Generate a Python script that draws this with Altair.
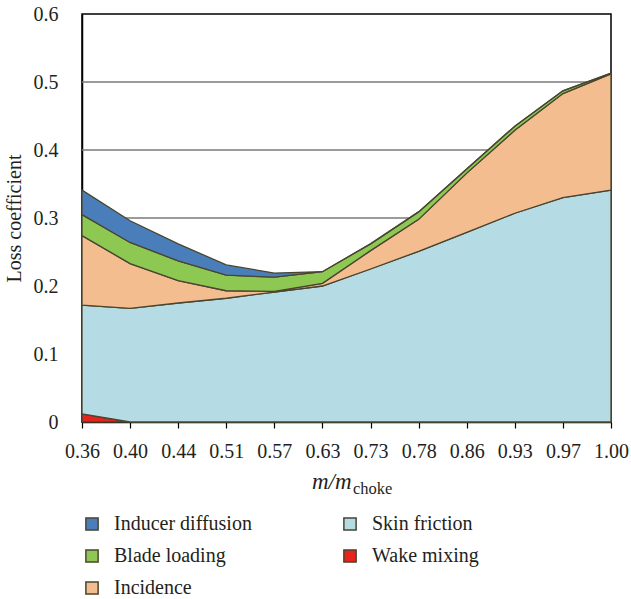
import altair as alt
import pandas as pd

# Mass-flow ratio categories (x axis)
mass_flow = ["0.36", "0.40", "0.44", "0.51", "0.57", "0.63",
             "0.73", "0.78", "0.86", "0.93", "0.97", "1.00"]

# Loss contributions per mechanism (stacked bottom to top)
wake_mixing = [0.012, 0, 0, 0, 0, 0, 0, 0, 0, 0, 0, 0]
skin_friction = [0.160, 0.167, 0.175, 0.182, 0.191, 0.200,
                 0.225, 0.251, 0.279, 0.307, 0.330, 0.341]
incidence = [0.102, 0.066, 0.033, 0.011, 0.001, 0.004,
             0.027, 0.047, 0.087, 0.122, 0.153, 0.171]
blade_loading = [0.031, 0.031, 0.029, 0.023, 0.021, 0.017,
                 0.010, 0.011, 0.006, 0.006, 0.004, 0.001]
inducer_diffusion = [0.036, 0.032, 0.025, 0.015, 0.006, 0,
                     0, 0, 0, 0, 0, 0]

series = [
    ("Wake mixing", wake_mixing),
    ("Skin friction", skin_friction),
    ("Incidence", incidence),
    ("Blade loading", blade_loading),
    ("Inducer diffusion", inducer_diffusion),
]
# legend fills column by column: three rows in the first column
legend_order = ["Inducer diffusion", "Blade loading", "Incidence",
                "Skin friction", "Wake mixing"]
colors = {"Inducer diffusion": "#4a7ebb", "Skin friction": "#b5dce4",
          "Blade loading": "#8dc853", "Wake mixing": "#e8231e",
          "Incidence": "#f3bd8f"}

rows = []
for rank, (name, vals) in enumerate(series):
    for m, v in zip(mass_flow, vals):
        rows.append({"mass_flow": m, "loss": v, "component": name, "rank": rank})
df = pd.DataFrame(rows)

grid_values = [0.1, 0.2, 0.3, 0.4, 0.5]
y_ticks = [0, 0.1, 0.2, 0.3, 0.4, 0.5, 0.6]

FONT = "Liberation Serif"
INK = "#231f20"
EDGE = "#4a4530"
FS = 20

x_enc = alt.X(
    "mass_flow:O",
    sort=mass_flow,
    scale=alt.Scale(type="point", padding=0),
    axis=alt.Axis(title=None, labelAngle=0, labelFont=FONT, labelFontSize=FS,
                  labelColor=INK, domainColor="black", domainWidth=1.5,
                  tickColor="black", tickSize=6, tickWidth=1.2,
                  labelPadding=13, grid=False),
)

areas = alt.Chart(df).mark_area(stroke=EDGE, strokeWidth=1.3, opacity=1).encode(
    x=x_enc,
    y=alt.Y(
        "loss:Q",
        stack="zero",
        scale=alt.Scale(domain=[0, 0.6], nice=False),
        axis=alt.Axis(title="Loss coefficient", values=y_ticks,
                      labelExpr="datum.value == 0 ? '0' : format(datum.value, '.1f')",
                      labelFont=FONT, labelFontSize=FS, labelColor=INK,
                      titleFont=FONT, titleFontSize=FS, titleFontWeight="normal",
                      titleColor=INK, titlePadding=9,
                      ticks=False, labelPadding=24, grid=False,
                      domainColor="black", domainWidth=1.5),
    ),
    color=alt.Color(
        "component:N",
        scale=alt.Scale(domain=legend_order,
                        range=[colors[c] for c in legend_order]),
        legend=alt.Legend(title=None, orient="none", legendX=0, legendY=500,
                          columns=2, columnPadding=88, rowPadding=12,
                          symbolType="square", symbolSize=150,
                          symbolStrokeColor=EDGE, symbolStrokeWidth=1.5,
                          symbolOpacity=1,
                          labelFont=FONT, labelFontSize=FS, labelColor=INK,
                          labelOffset=12),
    ),
    order=alt.Order("rank:Q"),
)

grid = alt.Chart(pd.DataFrame({"g": grid_values})).mark_rule(
    color="#7a7a7a", strokeWidth=1.4
).encode(y="g:Q")

title_main = alt.Chart(pd.DataFrame({"t": ["m/m"]})).mark_text(
    font=FONT, fontSize=23, fontStyle="italic", color=INK,
    align="left", baseline="alphabetic"
).encode(x=alt.value(230), y=alt.value(475), text="t:N")

title_sub = alt.Chart(pd.DataFrame({"t": ["choke"]})).mark_text(
    font=FONT, fontSize=16.5, color=INK, align="left", baseline="alphabetic"
).encode(x=alt.value(271), y=alt.value(480), text="t:N")

chart = alt.layer(grid, areas, title_main, title_sub).properties(
    width=529, height=408,
    padding={"left": 82, "top": 14, "right": 20, "bottom": 177},
    autosize=alt.AutoSizeParams(type="none"),
).configure(background="white", font=FONT).configure_view(
    stroke="black", strokeWidth=1.5
)

chart.save("out.html", embed_options={"renderer": "svg", "actions": False})
